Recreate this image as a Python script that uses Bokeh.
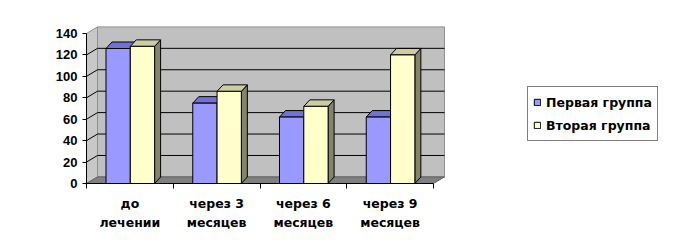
from bokeh.plotting import figure
from bokeh.models import Range1d, FixedTicker, Legend, LegendItem, ColumnDataSource
from bokeh.embed import file_html
from bokeh.resources import INLINE

# ---- data ----
categories = ["до\nлечении", "через 3\nмесяцев", "через 6\nмесяцев", "через 9\nмесяцев"]
group1 = [126, 75, 62, 62]
group2 = [128, 86, 72, 120]
series_names = ["Первая группа", "Вторая группа"]
y_ticks = [0, 20, 40, 60, 80, 100, 120, 140]

# ---- layout constants ----
W, H = 673, 250
LEFT, BOTTOM, TOP = 86, 67, 10
PX_X = 86.75          # pixels per category
PX_Y = 150 / 140      # pixels per value unit
frame_w = W - LEFT
frame_h = H - BOTTOM - TOP
x_end = frame_w / PX_X
y_end = frame_h / PX_Y
n = len(categories)
y_max = y_ticks[-1]

# 3D depth offsets (style)
wdx, wdy = 11 / PX_X, 6.6 / PX_Y   # walls
bdx, bdy = 6 / PX_X, 6.5 / PX_Y    # bars
BAR_OFF = 19.5 / PX_X
BAR_W = 24.3 / PX_X

p = figure(width=W, height=H, output_backend="svg", toolbar_location=None,
           x_range=Range1d(0, x_end), y_range=Range1d(0, y_end),
           min_border_left=LEFT, min_border_right=0, min_border_top=TOP,
           min_border_bottom=BOTTOM)
p.grid.visible = False
p.outline_line_color = None
p.background_fill_color = "white"
p.border_fill_color = "white"

# ---- walls & floor ----
p.patch([0, wdx, wdx, 0], [0, wdy, y_max + wdy, y_max],
        fill_color="#C8C8C8", line_color="#909090", line_width=1)
p.patch([wdx, n + wdx, n + wdx, wdx], [wdy, wdy, y_max + wdy, y_max + wdy],
        fill_color="#C0C0C0", line_color="#909090", line_width=1)
p.patch([0, n, n + wdx, wdx], [0, 0, wdy, wdy],
        fill_color="#808080", line_color="#606060", line_width=1)

# gridlines (back wall + side wall)
grid_vals = [v for v in y_ticks if 0 < v < y_max]
p.multi_line([[wdx, n + wdx] for _ in grid_vals], [[v + wdy, v + wdy] for v in grid_vals],
             line_color="black", line_width=1)
p.multi_line([[0, wdx] for _ in grid_vals], [[v, v + wdy] for v in grid_vals],
             line_color="black", line_width=1)

# ---- 3D bars ----
def draw_series(vals, offset, front_c, top_c, side_c):
    x0 = [i + offset for i in range(n)]
    x1 = [x + BAR_W for x in x0]
    side = ColumnDataSource(dict(
        xs=[[b, b + bdx, b + bdx, b] for b in x1],
        ys=[[0, bdy, v + bdy, v] for v in vals]))
    top = ColumnDataSource(dict(
        xs=[[a, b, b + bdx, a + bdx] for a, b in zip(x0, x1)],
        ys=[[v, v, v + bdy, v + bdy] for v in vals]))
    p.patches("xs", "ys", source=side, fill_color=side_c, line_color="black", line_width=1)
    p.patches("xs", "ys", source=top, fill_color=top_c, line_color="black", line_width=1)
    front = p.quad(left=x0, right=x1, bottom=[0] * n, top=vals,
                   fill_color=front_c, line_color="black", line_width=1)
    return front

r1 = draw_series(group1, BAR_OFF, "#9999FF", "#7272D6", "#4C4C80")
r2 = draw_series(group2, BAR_OFF + BAR_W, "#FFFFCC", "#CDCDA2", "#84846A")

# ---- axes ----
yax = p.yaxis[0]
yax.ticker = FixedTicker(ticks=y_ticks, minor_ticks=[])
yax.bounds = (0, y_max)
yax.major_tick_out = 4
yax.major_tick_in = 0
yax.major_label_standoff = 5
yax.axis_line_color = "black"
yax.major_tick_line_color = "black"
yax.major_label_text_font = "Liberation Sans"
yax.major_label_text_font_style = "bold"
yax.major_label_text_font_size = "13px"
yax.major_label_text_color = "black"

xax = p.xaxis[0]
centers = [i + 0.5 for i in range(n)]
xax.ticker = FixedTicker(ticks=centers, minor_ticks=list(range(n + 1)))
xax.major_label_overrides = {c: lab for c, lab in zip(centers, categories)}
xax.bounds = (0, n)
xax.major_tick_line_color = None
xax.major_tick_out = 0
xax.major_tick_in = 0
xax.minor_tick_line_color = "black"
xax.minor_tick_out = 5
xax.minor_tick_in = 0
xax.axis_line_color = "black"
xax.major_label_standoff = 7
xax.major_label_text_font = "DejaVu Sans"
xax.major_label_text_font_style = "bold"
xax.major_label_text_font_size = "12.5px"
xax.major_label_text_color = "black"
xax.major_label_text_line_height = 1.3

# ---- legend ----
legend = Legend(items=[LegendItem(label=series_names[0], renderers=[r1]),
                       LegendItem(label=series_names[1], renderers=[r2])],
                location=(441, 42), orientation="vertical")
legend.border_line_color = "black"
legend.border_line_width = 1
legend.background_fill_color = "white"
legend.background_fill_alpha = 1
legend.padding = 5
legend.margin = 0
legend.spacing = 3
legend.label_height = 20
legend.glyph_width = 8
legend.glyph_height = 8
legend.label_standoff = 5
legend.label_text_font = "DejaVu Sans"
legend.label_text_font_style = "bold"
legend.label_text_font_size = "12.5px"
legend.label_text_color = "black"
p.add_layout(legend)

open("out.html", "w").write(file_html(p, INLINE))
